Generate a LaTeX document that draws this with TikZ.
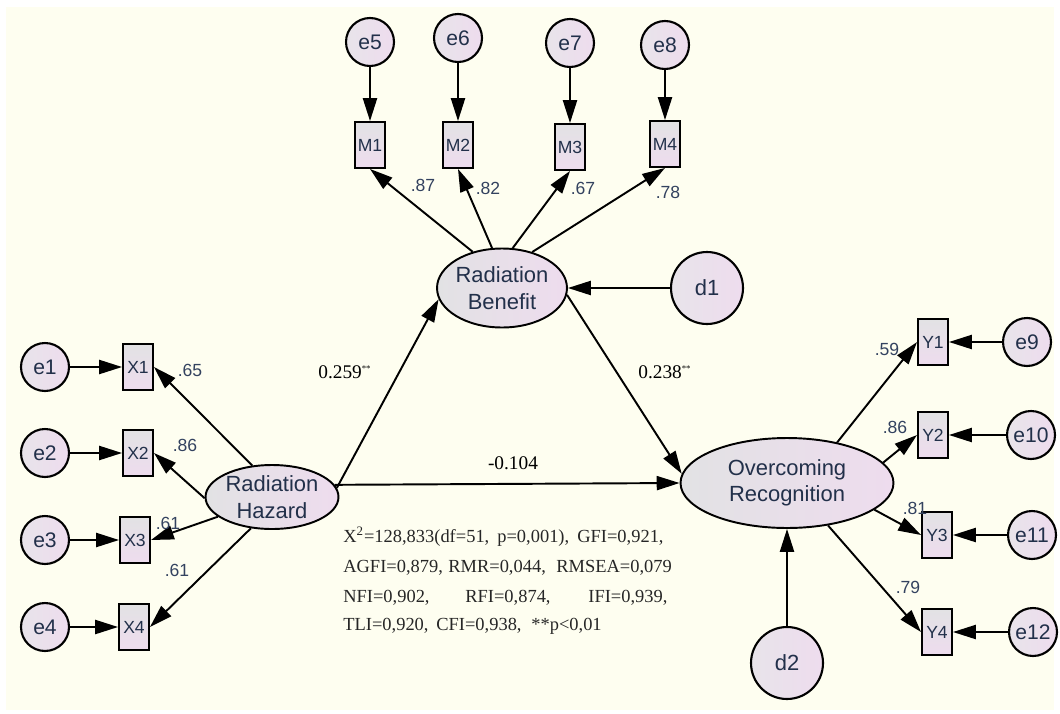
\documentclass[tikz,border=0pt]{standalone}
\usepackage{fontspec}
\setmainfont{Liberation Sans}
\newfontfamily\statfont{Liberation Serif}
\usetikzlibrary{shapes.geometric, arrows.meta}

\definecolor{bgcream}{HTML}{FEFEF0}
\definecolor{nodegray}{HTML}{E2E2E4}
\definecolor{nodepink}{HTML}{EEDCEE}
\definecolor{circgray}{HTML}{E8E4EA}
\definecolor{textnavy}{HTML}{22304A}
\definecolor{loadblue}{HTML}{33425F}

\begin{document}
\begin{tikzpicture}[x=0.02cm, y=-0.02cm,
  latent/.style={ellipse, draw, line width=1.1pt, left color=nodegray, right color=nodepink, text=textnavy, align=center, inner sep=-10pt, font=\fontsize{12.5}{15}\selectfont},
  errvar/.style={circle, draw, line width=1.2pt, left color=circgray, right color=nodepink, text=textnavy, inner sep=0pt, minimum size=0.96cm, font=\fontsize{12}{14}\selectfont},
  distvar/.style={errvar, minimum size=1.44cm, font=\fontsize{12.5}{14}\selectfont},
  obsvar/.style={rectangle, draw, line width=1.1pt, top color=nodegray, bottom color=nodepink, text=textnavy, inner sep=0pt, minimum width=0.6cm, minimum height=0.92cm, font=\fontsize{10}{12}\selectfont},
  arr/.style={-{Triangle[length=13pt,width=8pt]}, line width=1.1pt},
  load/.style={text=loadblue, inner sep=0pt, font=\fontsize{10}{12}\selectfont},
  coef/.style={anchor=west, inner sep=0pt, font=\statfont\fontsize{11}{13}\selectfont},
  fitline/.style={anchor=base west, inner sep=0pt, text=black!85, font=\statfont\fontsize{10.5}{13}\selectfont}]

  % page and background
  \useasboundingbox (0,0) rectangle (1060,713);
  \fill[white] (0,0) rectangle (1060,713);
  \fill[bgcream] (6,7) rectangle (1054,710);

  % latent variables
  \node[latent, minimum width=2.66cm, minimum height=1.28cm] (Hazard) at (272,497) {Radiation\\Hazard};
  \node[latent, minimum width=2.6cm, minimum height=1.58cm] (Benefit) at (502,288) {Radiation\\Benefit};
  \node[latent, minimum width=4.26cm, minimum height=1.8cm] (Overcoming) at (787,483) {Overcoming\\Recognition};

  % disturbances
  \node[distvar] (d1) at (707,288) {d1};
  \node[distvar] (d2) at (787,663) {d2};
  \draw[arr] (d1) -- (Benefit.east);
  \draw[arr] (d2) -- (Overcoming.south);

  % structural paths
  \draw[arr] (Hazard.8) -- (Benefit.190);
  \draw[arr] (Benefit.-6) -- (Overcoming.175);
  \draw[arr] (Hazard.11) -- (Overcoming.west);
  \node[coef] (c1) at (318,372) {0.259\textsuperscript{\tiny**}};
  \node[coef] (c2) at (638,372) {0.238\textsuperscript{\tiny**}};
  \node[coef, anchor=center] (c3) at (513,463) {-0.104};

  % Radiation Hazard indicators
  \foreach \i/\yy/\xx/\ang/\lx/\ly/\val in {1/367/138/122/190/370/.65, 2/453/138/181/185/445/.86, 3/540/135/200/168/523/.61, 4/627/134/236/177/570/.61} {
    \node[errvar] (e\i) at (45,\yy) {e\i};
    \node[obsvar] (X\i) at (\xx,\yy) {X\i};
    \draw[arr] (e\i) -- (X\i);
    \draw[arr] (Hazard.\ang) -- (X\i.east);
    \node[load] (lx\i) at (\lx,\ly) {\val};
  }

  % Radiation Benefit indicators
  \foreach \k/\i/\xx/\ey/\my/\ang/\lx/\ly/\val in {5/1/370/42/145/129/423/185/.87, 6/2/458/38/145/104/488/188/.82, 7/3/570/43/147/75/583/188/.67, 8/4/665/45/144/50/668/192/.78} {
    \node[errvar] (e\k) at (\xx,\ey) {e\k};
    \node[obsvar] (M\i) at (\xx,\my) {M\i};
    \draw[arr] (e\k) -- (M\i);
    \draw[arr] (Benefit.\ang) -- (M\i.south);
    \node[load] (lm\i) at (\lx,\ly) {\val};
  }

  % Overcoming Recognition indicators
  \foreach \k/\i/\xx/\ex/\yy/\ang/\lx/\ly/\val in {9/1/933/1027/342/39/887/349/.59, 10/2/933/1031/435/12/895/427/.86, 11/3/937/1032/535/343/915/508/.81, 12/4/937/1033/632/314/908/587/.79} {
    \node[errvar] (e\k) at (\ex,\yy) {e\k};
    \node[obsvar] (Y\i) at (\xx,\yy) {Y\i};
    \draw[arr] (e\k) -- (Y\i);
    \draw[arr] (Overcoming.\ang) -- (Y\i.west);
    \node[load] (ly\i) at (\lx,\ly) {\val};
  }

  % fit indices
  \foreach \sx/\sy/\st [count=\n] in {343/542/{X\textsuperscript{2}=128,833(df=51,}, 497/542/{p=0,001),}, 577/542/{GFI=0,921,},
      343/572/{AGFI=0,879,}, 448/572/{RMR=0,044,}, 556/572/{RMSEA=0,079},
      343/602/{NFI=0,902,}, 465/602/{RFI=0,874,}, 588/602/{IFI=0,939,},
      343/630/{TLI=0,920,}, 436/630/{CFI=0,938,}, 531/630/{**p<0,01}}
    \node[fitline] (fit\n) at (\sx,\sy) {\st};

\end{tikzpicture}
\end{document}
